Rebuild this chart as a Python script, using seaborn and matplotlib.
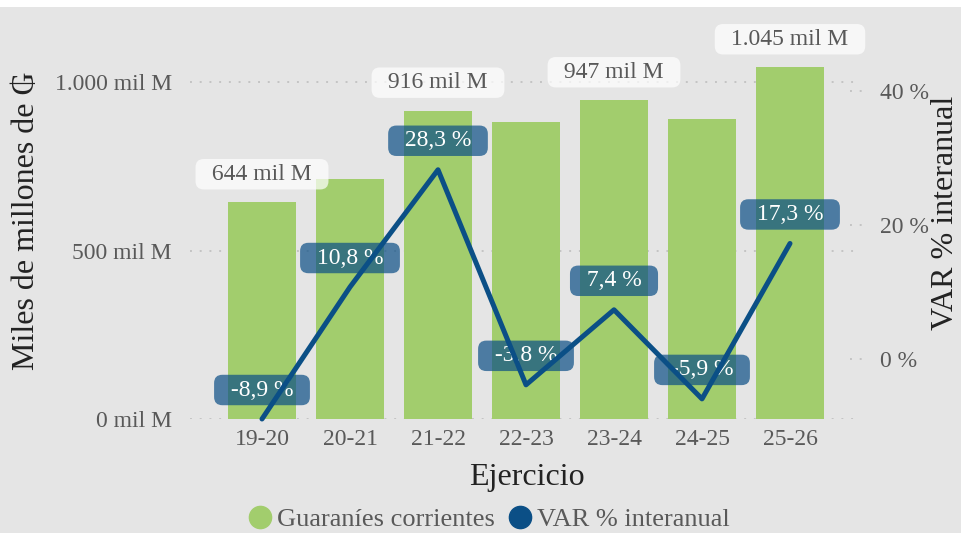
import matplotlib
matplotlib.use("Agg")
import matplotlib.pyplot as plt
import numpy as np
import pandas as pd
import seaborn as sns
from matplotlib.lines import Line2D
from matplotlib.patches import Rectangle

# Data
ejercicios = ['19-20', '20-21', '21-22', '22-23', '23-24', '24-25', '25-26']
guaranies = [644, 714, 916, 881, 947, 891, 1045]          # miles de millones de ₲
var_pct = [-8.9, 10.8, 28.3, -3.8, 7.4, -5.9, 17.3]       # VAR % interanual
bar_label_shown = [True, False, True, False, True, False, True]
left_ticks = [0, 500, 1000]
right_ticks = [0, 20, 40]

GREEN = '#a2cd6d'
BLUE = '#0b4f86'
BG = '#e5e5e5'
TICK_C = '#595959'
TITLE_C = '#222222'
W, H = 962, 533


def fmt_miles(v):
    return f'{v:,.0f}'.replace(',', '.') + ' mil M'


def fmt_pct(v, dec=1):
    return f'{v:.{dec}f}'.replace('.', ',') + ' %'


df = pd.DataFrame({'ejercicio': ejercicios, 'guaranies': guaranies, 'var': var_pct})
df['pos'] = np.arange(len(df))

sns.set_theme(style='white')
plt.rcParams['font.family'] = ['Liberation Serif', 'DejaVu Serif']

fig = plt.figure(figsize=(W / 100, H / 100), dpi=100, facecolor=BG)
fig.patches.append(Rectangle((0, 1 - 7 / H), 1, 7 / H, transform=fig.transFigure,
                             facecolor='white', edgecolor='none'))

ax = fig.add_axes([190 / W, 1 - 419 / H, (858 - 190) / W, (419 - 8) / H])
ax.set_facecolor(BG)

# ── Bars ──
sns.barplot(data=df, x='pos', y='guaranies', color=GREEN, saturation=1,
            width=0.78, ax=ax, native_scale=True, zorder=2, linewidth=0,
            edgecolor='none')
ax.set_xlim((190 - 262) / 88, (858 - 262) / 88)
ax.set_ylim(0, 411 / 0.3366)
ax.set_yticks(left_ticks)
ax.set_yticklabels([fmt_miles(t) for t in left_ticks])
ax.set_xticks(df['pos'])
ax.set_xticklabels(ejercicios)
ax.tick_params(axis='y', length=0, pad=13, labelsize=17, labelcolor=TICK_C)
ax.tick_params(axis='x', length=0, pad=7, labelsize=17, labelcolor=TICK_C)
ax.set_xlabel('')
ax.set_ylabel('')
ax.grid(axis='y', linestyle=(0, (1, 4)), color='#c4c4c4', linewidth=1.4)
ax.grid(axis='x', visible=False)
ax.set_axisbelow(True)
for s in ax.spines.values():
    s.set_visible(False)

for i, (v, show) in enumerate(zip(guaranies, bar_label_shown)):
    if show:
        ax.annotate('\u2002' + fmt_miles(v) + '\u2002', xy=(i, v), xytext=(0, 28),
                    textcoords='offset pixels', ha='center', va='center',
                    fontsize=17, color=TICK_C, zorder=5, annotation_clip=False,
                    bbox=dict(boxstyle='round,pad=0.2,rounding_size=0.35',
                              fc='white', ec='none', alpha=0.7))

# ── Line on secondary axis ──
ax2 = ax.twinx()
sns.lineplot(data=df, x='pos', y='var', color=BLUE, linewidth=3.6, ax=ax2,
             zorder=4, clip_on=False, solid_joinstyle='round', solid_capstyle='round')
ax2.set_ylim(-8.9, -8.9 + 411 / 6.7)
ax2.set_yticks(right_ticks)
ax2.set_yticklabels([fmt_pct(t, 0) for t in right_ticks])
ax2.tick_params(axis='y', length=0, pad=16, labelsize=17, labelcolor=TICK_C)
ax2.set_ylabel('')
ax2.grid(False)
for s in ax2.spines.values():
    s.set_visible(False)
for t in right_ticks:
    ax2.axhline(t, xmin=(850 - 190) / 668, xmax=(863 - 190) / 668, clip_on=False,
                linestyle=(0, (1, 4)), color='#c4c4c4', linewidth=1.4)

for i, v in enumerate(var_pct):
    ax2.annotate('\u2002' + fmt_pct(v) + '\u2002', xy=(i, v), xytext=(0, 29),
                 textcoords='offset pixels', ha='center', va='center',
                 fontsize=17, color='white', zorder=3, annotation_clip=False,
                 bbox=dict(boxstyle='round,pad=0.2,rounding_size=0.35',
                           fc=BLUE, ec='none', alpha=0.7))

# ── Titles ──
fig.text(12 / W, 1 - 221 / H, 'Miles de millones de ₲', rotation=90,
         ha='left', va='center', fontsize=23, color=TITLE_C)
fig.text(960 / W, 1 - 213 / H, 'VAR % interanual', rotation=90,
         ha='right', va='center', fontsize=23, color=TITLE_C)
fig.text(527 / W, 1 - 477 / H, 'Ejercicio', ha='center', va='center',
         fontsize=23, color=TITLE_C)

# ── Legend ──
handles = [Line2D([], [], marker='o', linestyle='none', markersize=16, color=GREEN),
           Line2D([], [], marker='o', linestyle='none', markersize=16, color=BLUE)]
fig.legend(handles, ['Guaraníes corrientes', 'VAR % interanual'], loc='center',
           bbox_to_anchor=(488 / W, 1 - 519 / H), ncol=2, frameon=False,
           fontsize=19, labelcolor=TICK_C, handlelength=1.0, handletextpad=0.15,
           columnspacing=0.45, borderpad=0)

fig.savefig('out.png', dpi=100, facecolor=BG)
